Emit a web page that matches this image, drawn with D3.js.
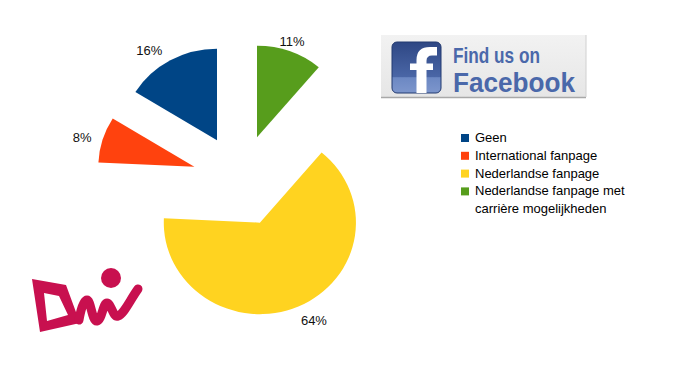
<!DOCTYPE html>
<html>
<head>
<meta charset="utf-8">
<script src="https://cdn.jsdelivr.net/npm/d3@7"></script>
<style>
  body { margin: 0; background: #fff; }
  svg { display: block; }
</style>
</head>
<body>
<div id="chart"></div>
<script>
// chart data
var categories = ['Geen', 'International fanpage', 'Nederlandse fanpage', 'Nederlandse fanpage met carrière mogelijkheden'];
var values = [16, 8, 64, 11];
var colors = ['#004586', '#ff420e', '#ffd320', '#579d1c'];

var width = 673, height = 378;
var cx = 240.5, cy = 180.5;
var radius = 91.5;
var sx = 1.05;      // the source picture is a little wider than tall
var explode = 46;

var svg = d3.select('#chart').append('svg')
    .attr('width', width).attr('height', height);

// slices run counter-clockwise from 12 o'clock
var pie = d3.pie()
    .sort(null)
    .startAngle(2 * Math.PI)
    .endAngle(0)
    .value(function (d) { return d; });
var arc = d3.arc().innerRadius(0).outerRadius(radius);

var arcs = pie(values);
function mid(d) { return (d.startAngle + d.endAngle) / 2; }

var g = svg.append('g').attr('transform', 'translate(' + cx + ',' + cy + ')');

var slice = g.selectAll('g.slice')
    .data(arcs)
    .enter()
    .append('g')
    .attr('class', 'slice')
    .attr('transform', function (d) {
        var m = mid(d);
        return 'translate(' + (sx * Math.sin(m) * explode) + ',' + (-Math.cos(m) * explode) + ')';
    });

slice.append('path')
    .attr('d', arc)
    .attr('transform', 'scale(' + sx + ',1)')
    .style('fill', function (d, i) { return colors[i]; });

// labels sit just outside the rim, aligned away from the slice
var labelR = radius + 6;
slice.append('text')
    .attr('x', function (d) {
        var s = Math.sin(mid(d));
        var pad = Math.abs(s) < 0.37 ? 0 : (s > 0 ? 0 : -5);
        return sx * s * labelR + pad;
    })
    .attr('y', function (d) { return -Math.cos(mid(d)) * labelR; })
    .attr('dy', function (d) {
        var c = Math.cos(mid(d));
        return c > 0.5 ? '0em' : (c < -0.5 ? '1.02em' : '0.35em');
    })
    .style('text-anchor', function (d) {
        var s = Math.sin(mid(d));
        return Math.abs(s) < 0.37 ? 'middle' : (s > 0 ? 'start' : 'end');
    })
    .style('font-family', 'Liberation Sans, Arial, sans-serif')
    .style('font-size', '13px')
    .style('fill', '#111')
    .text(function (d) { return d.value + '%'; });

// legend
var legend = svg.append('g').attr('transform', 'translate(461,134)');
var rows = legend.selectAll('g.row')
    .data(categories)
    .enter()
    .append('g')
    .attr('class', 'row')
    .attr('transform', function (d, i) { return 'translate(0,' + (i * 17.8) + ')'; });
rows.append('rect')
    .attr('width', 8).attr('height', 8)
    .style('fill', function (d, i) { return colors[i]; });
var lt = rows.append('text')
    .attr('x', 14).attr('y', 8)
    .style('font-family', 'Liberation Sans, Arial, sans-serif')
    .style('font-size', '13px')
    .style('fill', '#000');
lt.each(function (d) {
    var t = d3.select(this);
    if (d.length > 25) {
        t.append('tspan').attr('x', 14).text('Nederlandse fanpage met');
        t.append('tspan').attr('x', 14).attr('dy', 18).text('carrière mogelijkheden');
    } else {
        t.text(d);
    }
});

// facebook badge
var defs = svg.append('defs');
var bg = defs.append('linearGradient').attr('id', 'fbbox').attr('x1', 0).attr('y1', 0).attr('x2', 0).attr('y2', 1);
bg.append('stop').attr('offset', 0).attr('stop-color', '#f2f2f2');
bg.append('stop').attr('offset', 1).attr('stop-color', '#e6e6e6');
var ig = defs.append('linearGradient').attr('id', 'fbicon').attr('x1', 0).attr('y1', 0).attr('x2', 0).attr('y2', 1);
ig.append('stop').attr('offset', 0).attr('stop-color', '#2e4784');
ig.append('stop').attr('offset', 0.68).attr('stop-color', '#4a66a6');
ig.append('stop').attr('offset', 0.7).attr('stop-color', '#6c88c3');
ig.append('stop').attr('offset', 1).attr('stop-color', '#7d96cc');

var fb = svg.append('g');
fb.append('rect').attr('x', 381).attr('y', 35).attr('width', 205).attr('height', 62)
    .style('fill', 'url(#fbbox)');
fb.append('line').attr('x1', 381).attr('x2', 586).attr('y1', 97.5).attr('y2', 97.5)
    .style('stroke', '#a8a8a8').style('stroke-width', 1.5);
fb.append('line').attr('x1', 586).attr('x2', 586).attr('y1', 35).attr('y2', 97)
    .style('stroke', '#d0d0d0').style('stroke-width', 1);
fb.append('rect').attr('x', 392).attr('y', 42).attr('width', 49).attr('height', 51)
    .attr('rx', 5).style('fill', 'url(#fbicon)').style('stroke', '#233a70').style('stroke-width', 1);
fb.append('path')
    .attr('d', 'M416.5,93 V60 Q416.5,47 430,47 H437 V55.5 H432 Q426.5,55.5 426.5,61 V93 Z M410,63.5 H433 V70 H410 Z')
    .style('fill', '#fff');
fb.append('text')
    .attr('x', 453).attr('y', 63)
    .attr('textLength', 87).attr('lengthAdjust', 'spacingAndGlyphs')
    .style('font-family', 'Liberation Sans Narrow, Liberation Sans, Arial, sans-serif')
    .style('font-weight', 'bold')
    .style('font-size', '22px')
    .style('fill', '#4a68aa')
    .text('Find us on');
fb.append('text')
    .attr('x', 453).attr('y', 91.5)
    .attr('textLength', 122).attr('lengthAdjust', 'spacingAndGlyphs')
    .style('font-family', 'Liberation Sans Narrow, Liberation Sans, Arial, sans-serif')
    .style('font-weight', 'bold')
    .style('font-size', '28px')
    .style('fill', '#4a68aa')
    .text('Facebook');

// logo
var logo = svg.append('g').style('fill', '#c8104f');
logo.append('path')
    .attr('d', 'M32,279 L66,285 L80,323 L40,332 Z M44,293 L47,321 L68,315 L59,296 Z')
    .attr('fill-rule', 'evenodd');
logo.append('path')
    .attr('d', 'M79,320 C81,308 84,300 87,300 C91,300 92,322 97,321 C102,320 103,303 107,303 C111,303 113,318 118,316 C124,314 130,300 138,289')
    .style('fill', 'none').style('stroke', '#c8104f').style('stroke-width', 9)
    .style('stroke-linecap', 'round').style('stroke-linejoin', 'round');
logo.append('circle').attr('cx', 111).attr('cy', 278).attr('r', 10);
</script>
</body>
</html>
